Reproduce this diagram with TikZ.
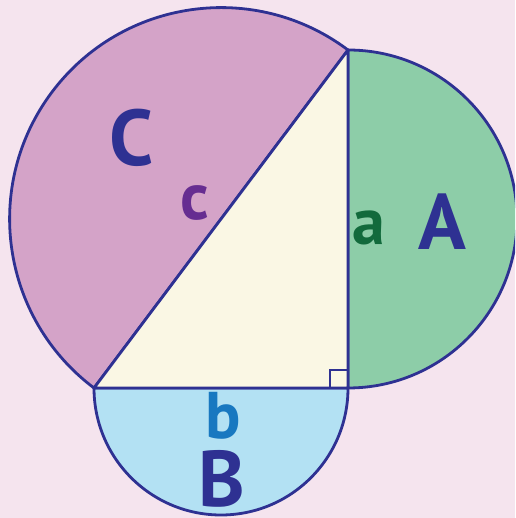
\documentclass[tikz,border=0pt]{standalone}
\usepackage{fontspec}
\setmainfont{PT Sans}
\definecolor{bg}{RGB}{245,228,238}
\definecolor{cfill}{RGB}{212,163,200}
\definecolor{afill}{RGB}{141,205,168}
\definecolor{bfill}{RGB}{179,225,243}
\definecolor{tfill}{RGB}{250,247,228}
\definecolor{edge}{RGB}{46,49,146}
\definecolor{ccol}{RGB}{102,45,145}
\definecolor{acol}{RGB}{18,106,60}
\definecolor{bcol}{RGB}{24,120,192}
\begin{document}
\begin{tikzpicture}[x=1pt,y=1pt,
  part/.style={draw=edge,line width=2.8pt,line join=round},
  big/.style={inner sep=0pt,text=edge,font=\fontsize{79}{79}\selectfont\bfseries},
  small/.style={inner sep=0pt,font=\fontsize{66}{66}\selectfont\bfseries}]
\fill[bg] (0,0) rectangle (515,518);
\useasboundingbox (0,0) rectangle (515,518);
\clip (0,0) rectangle (515,518);
\coordinate (BL) at (94,130);
\coordinate (BR) at (348,130);
\coordinate (TP) at (348,468);
% semicircle on hypotenuse
\filldraw[part,fill=cfill] (TP) arc[start angle=53.08,end angle=233.08,radius=211.4] -- cycle;
% semicircle on a
\filldraw[part,fill=afill] (TP) arc[start angle=90,end angle=-90,radius=169] -- cycle;
% semicircle on b
\filldraw[part,fill=bfill] (BR) arc[start angle=0,end angle=-180,radius=127] -- cycle;
% triangle
\filldraw[part,fill=tfill] (BL) -- (BR) -- (TP) -- cycle;
\draw[draw=edge,line width=2.8pt] ([xshift=-18pt]BR) |- ([yshift=18pt]BR);
\node[big] (LC) at (132,380) {C};
\node[small,text=ccol] (lc) at (195,315) {c};
\node[small,text=acol] (la) at (369,290) {a};
\node[big] (LA) at (442,296) {A};
\node[small,text=bcol] (lb) at (223,102) {b};
\node[big] (LB) at (222,39) {B};
\end{tikzpicture}
\end{document}
